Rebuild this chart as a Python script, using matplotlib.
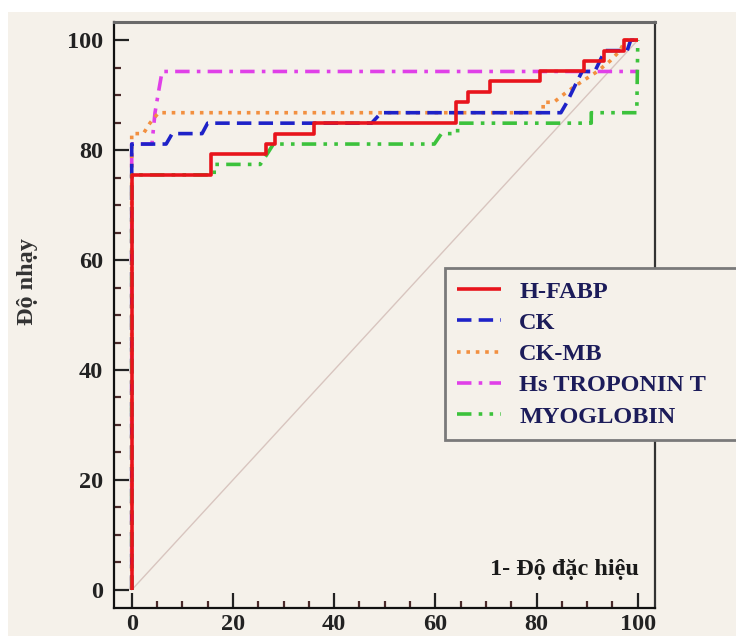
import matplotlib
matplotlib.use("Agg")
import matplotlib.pyplot as plt
from matplotlib.patches import Rectangle
from matplotlib.ticker import MultipleLocator

# ---- data (1 - specificity %, sensitivity %) ----
labels = ["H-FABP", "CK", "CK-MB", "Hs TROPONIN T", "MYOGLOBIN"]

hfabp_x = [0, 0, 15.6, 15.6, 26.5, 26.5, 28.3, 28.3, 36.1, 36.1, 64.0, 64.0, 66.5, 66.5,
           70.7, 70.7, 80.6, 80.6, 89.4, 89.4, 93.3, 93.3, 97.2, 97.2, 100]
hfabp_y = [0, 75.5, 75.5, 79.2, 79.2, 81.1, 81.1, 83.0, 83.0, 84.9, 84.9, 88.7, 88.7, 90.6,
           90.6, 92.5, 92.5, 94.3, 94.3, 96.2, 96.2, 98.1, 98.1, 100, 100]

ck_x = [0, 0, 6.8, 8.0, 13.9, 15.0, 47.4, 49.3, 84.8, 86.0, 87.0, 88.0, 89.0, 91.5, 92.5, 93.5,
        97.9, 98.6, 100]
ck_y = [0, 81.1, 81.1, 83.0, 83.0, 84.9, 84.9, 86.8, 86.8, 88.7, 90.6, 92.5, 94.3, 94.3, 96.2,
        98.1, 98.1, 100, 100]

ckmb_x = [0, 0, 2.3, 3.6, 5.3, 81.3, 81.3, 83.4, 86.0, 89.0, 92.0, 94.5, 96.5, 97.5, 100]
ckmb_y = [0, 83.0, 83.0, 84.9, 86.8, 86.8, 88.7, 88.7, 90.6, 92.5, 94.3, 96.2, 98.1, 100, 100]

trop_x = [0, 0, 4.0, 4.6, 5.3, 6.0, 100]
trop_y = [0, 81.1, 81.1, 86.8, 90.6, 94.3, 94.3]

myo_x = [0, 0, 16.3, 16.3, 25.4, 26.7, 28.0, 59.8, 61.2, 64.4, 64.4, 90.8, 90.8, 99.8, 100]
myo_y = [0, 75.5, 75.5, 77.4, 77.4, 79.2, 81.1, 81.1, 83.0, 83.0, 84.9, 84.9, 86.8, 86.8, 100]

ref_x = [0, 100]
ref_y = [0, 100]

xticks = [0, 20, 40, 60, 80, 100]
yticks = [0, 20, 40, 60, 80, 100]

# ---- style ----
BG = "#f5f1ea"
SERIF = ["Liberation Serif", "DejaVu Serif"]
FS = 17.5

fig = plt.figure(figsize=(7.36, 6.36), dpi=100)
fig.patch.set_facecolor("white")
fig.add_artist(Rectangle((8 / 736, 0), 1, 1 - 12 / 636, transform=fig.transFigure,
                         facecolor=BG, edgecolor="none", zorder=-10))

ax = fig.add_axes([114 / 736, 1 - 607.5 / 636, 541 / 736, 585.5 / 636])
ax.set_facecolor(BG)

ax.plot(ref_x, ref_y, color="#d8c5bf", lw=1.0, zorder=1)

series = [
    (hfabp_x, hfabp_y, "#e8141c", "-", None),
    (ck_x, ck_y, "#1e22c8", "--", (4, 2)),
    (ckmb_x, ckmb_y, "#f29040", ":", (1, 1.6)),
    (trop_x, trop_y, "#e040e8", "-.", (4, 2, 1, 2)),
    (myo_x, myo_y, "#3cc23c", "-.", (4, 2, 1, 2, 1, 2)),
]
zs = [6, 4, 3, 2, 5]
for (xs, ys, c, ls, dash), lab, z in zip(series, labels, zs):
    line, = ax.plot(xs, ys, color=c, lw=2.6, label=lab, zorder=z, solid_capstyle="butt")
    if dash is not None:
        line.set_dashes(dash)

ax.set_xlim(-3.5, 103.4)
ax.set_ylim(-3.2, 103.3)
ax.set_xticks(xticks)
ax.set_yticks(yticks)
ax.xaxis.set_minor_locator(MultipleLocator(5))
ax.yaxis.set_minor_locator(MultipleLocator(5))
ax.tick_params(which="major", direction="in", length=11, width=1.6, color="#222222",
               pad=8, labelsize=FS, labelcolor="#222222")
ax.tick_params(axis="x", which="major", pad=5)
ax.tick_params(which="minor", direction="in", length=5, width=1.6, color="#4a2a2a")
for lab in ax.get_xticklabels() + ax.get_yticklabels():
    lab.set_fontfamily(SERIF)
    lab.set_fontweight("bold")

for s in ["left", "bottom"]:
    ax.spines[s].set_color("#111111")
    ax.spines[s].set_linewidth(1.6)
ax.spines["top"].set_color("#6a6a6a")
ax.spines["top"].set_linewidth(2.2)
ax.spines["right"].set_color("#333333")
ax.spines["right"].set_linewidth(1.6)

ax.set_ylabel("Độ nhạy", family=SERIF, fontweight="bold", fontsize=FS, color="#333333")
ax.yaxis.set_label_coords(-0.14, 0.556)

ax.text(0.97, 0.056, "1- Độ đặc hiệu", transform=ax.transAxes,
        ha="right", va="baseline", family=SERIF, fontweight="bold", fontsize=FS,
        color="#1a1a1a")

leg = ax.legend(loc="upper left", bbox_to_anchor=(0.612, 0.292, 0.7, 0.287), mode="expand",
                frameon=True, fancybox=False, borderaxespad=0, handlelength=1.8,
                handletextpad=0.75, labelspacing=0.38, borderpad=0.5,
                prop={"family": SERIF, "weight": "bold", "size": FS})
leg.get_frame().set_facecolor(BG)
leg.get_frame().set_edgecolor("#7a7a7a")
leg.get_frame().set_linewidth(2.0)
leg.get_frame().set_alpha(1)
for t in leg.get_texts():
    t.set_color("#1c1c5a")
leg.set_zorder(10)

fig.savefig("out.png", dpi=100, facecolor=fig.get_facecolor())
